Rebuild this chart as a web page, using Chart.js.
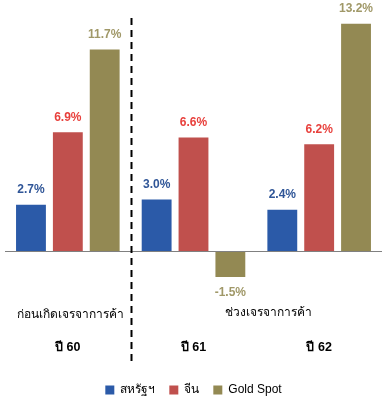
<!DOCTYPE html>
<html>
<head>
<meta charset="utf-8">
<script src="https://cdn.jsdelivr.net/npm/chart.js@4.4.0/dist/chart.umd.min.js"></script>
<style>
  html, body { margin: 0; padding: 0; background: #fff; }
  #wrap { width: 391px; height: 406px; }
</style>
</head>
<body>
<div id="wrap"><canvas id="goldChart"></canvas></div>
<script>
// Datos del gráfico
const years = ['ปี 60', 'ปี 61', 'ปี 62'];
const periods = ['ก่อนเกิดเจรจาการค้า', 'ช่วงเจรจาการค้า'];
const seriesNames = ['สหรัฐฯ', 'จีน', 'Gold Spot'];
const usValues = [2.7, 3.0, 2.4];
const chinaValues = [6.9, 6.6, 6.2];
const goldValues = [11.7, -1.5, 13.2];

const barColors = ['#2b5aa8', '#c0504d', '#938953'];
const labelColors = ['#2f5597', '#e8403c', '#a09868'];
const FONT = '"Liberation Sans Narrow", "Liberation Sans", Arial, sans-serif';

// Plugin: etiquetas de valor, línea punteada y textos de categoría
const extras = {
    id: 'extras',
    afterDatasetsDraw(chart) {
        const c = chart.ctx;
        const x = chart.scales.x;
        const y = chart.scales.y;
        c.save();
        // etiquetas de valor
        c.font = 'bold 12px ' + FONT;
        c.textAlign = 'center';
        chart.data.datasets.forEach((ds, i) => {
            chart.getDatasetMeta(i).data.forEach((bar, j) => {
                const v = ds.data[j];
                c.fillStyle = labelColors[i];
                if (v >= 0) {
                    c.textBaseline = 'bottom';
                    c.fillText(v.toFixed(1) + '%', bar.x, bar.y - 9);
                } else {
                    c.textBaseline = 'top';
                    c.fillText(v.toFixed(1) + '%', bar.x, bar.y + 10);
                }
            });
        });
        // línea base
        const y0 = y.getPixelForValue(0);
        c.strokeStyle = '#808080';
        c.lineWidth = 1;
        c.beginPath();
        c.moveTo(chart.chartArea.left, Math.round(y0) + 0.5);
        c.lineTo(chart.chartArea.right, Math.round(y0) + 0.5);
        c.stroke();
        // línea punteada vertical
        const xd = Math.round(x.getPixelForValue(0.5)) + 0.5;
        c.strokeStyle = '#000';
        c.lineWidth = 2;
        c.setLineDash([7, 5]);
        c.beginPath();
        c.moveTo(xd, 18);
        c.lineTo(xd, 363);
        c.stroke();
        c.setLineDash([]);
        // textos de período
        c.fillStyle = '#000';
        c.font = '12px ' + FONT;
        c.textBaseline = 'middle';
        c.fillText(periods[0], x.getPixelForValue(0) + 3, 315);
        c.fillText(periods[1], x.getPixelForValue(1.6), 313);
        // años
        c.font = 'bold 12.5px ' + FONT;
        years.forEach((yr, i) => {
            c.fillText(yr, x.getPixelForValue(i), 348);
        });
        c.restore();
    }
};

new Chart(document.getElementById('goldChart'), {
    type: 'bar',
    data: {
        labels: years,
        datasets: [
            { label: seriesNames[0], data: usValues, backgroundColor: barColors[0] },
            { label: seriesNames[1], data: chinaValues, backgroundColor: barColors[1] },
            { label: seriesNames[2], data: goldValues, backgroundColor: barColors[2] }
        ]
    },
    options: {
        responsive: true,
        maintainAspectRatio: false,
        animation: false,
        barPercentage: 0.81,
        categoryPercentage: 0.88,
        layout: { padding: { left: 5, right: 9, top: 10, bottom: 0 } },
        scales: {
            x: { display: false },
            y: { display: false, min: -6.9, max: 14 }
        },
        plugins: {
            tooltip: { enabled: false },
            legend: {
                position: 'bottom',
                labels: {
                    boxWidth: 9,
                    boxHeight: 9,
                    padding: 14,
                    color: '#000',
                    font: { family: FONT, size: 12 }
                }
            }
        }
    },
    plugins: [extras]
});
</script>
</body>
</html>
